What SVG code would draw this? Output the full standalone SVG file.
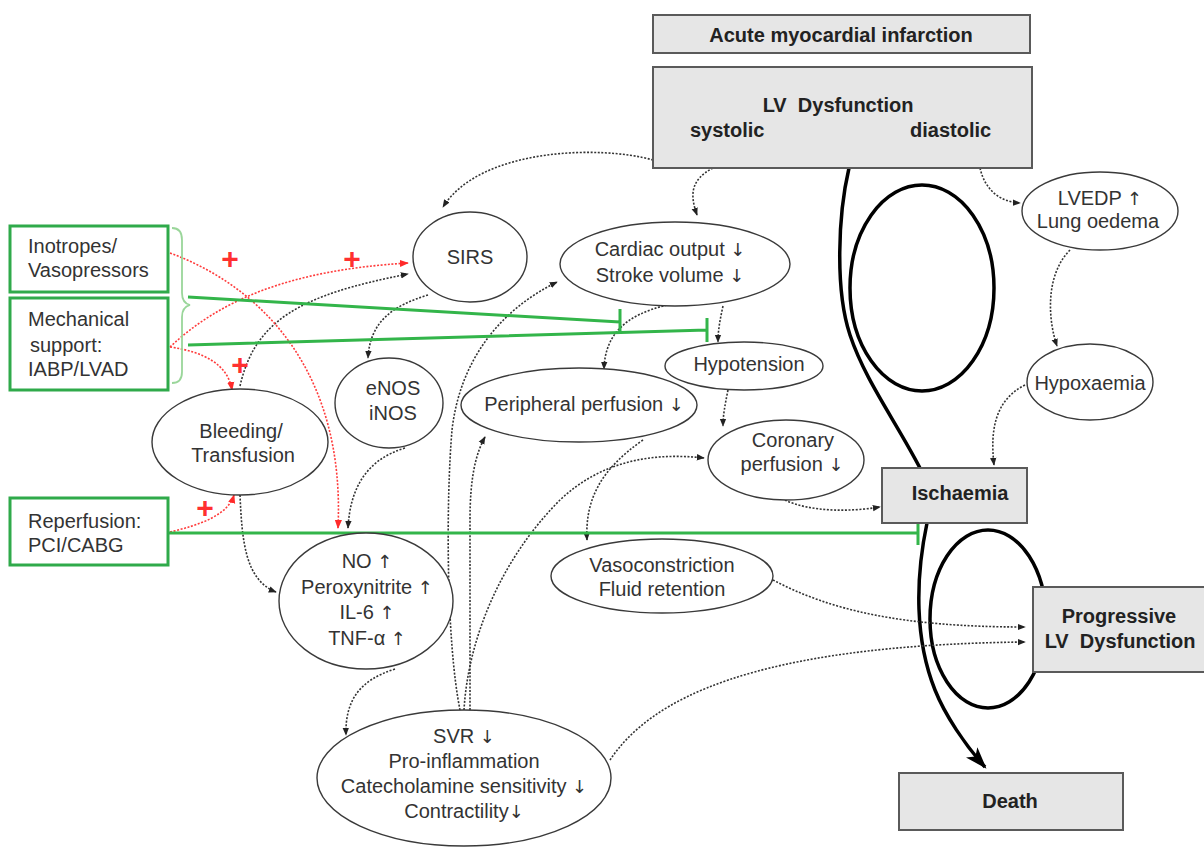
<svg xmlns="http://www.w3.org/2000/svg" width="1204" height="851" viewBox="0 0 1204 851">
<style>
.box{fill:#e6e6e6;stroke:#5a5a5a;stroke-width:2}
.gbox{fill:#fff;stroke:#2faa4a;stroke-width:3}
.ell{fill:#fff;stroke:#3a3a3a;stroke-width:1.4}
.t{font-family:"Liberation Sans",Arial,sans-serif;font-size:20px;fill:#333;text-anchor:middle}
.tl{font-family:"Liberation Sans",Arial,sans-serif;font-size:20px;fill:#333;text-anchor:start}
.b{font-weight:bold;fill:#222}
.a{font-family:"DejaVu Sans",sans-serif;font-size:18px;fill:#333}
.dot{fill:none;stroke:#333;stroke-width:1.6;stroke-dasharray:2 1.6;marker-end:url(#ab)}
.red{fill:none;stroke:#ff3b3b;stroke-width:1.6;stroke-dasharray:2 1.6;marker-end:url(#ar)}
.inh{fill:none;stroke:#33b54a;stroke-width:3}
.thick{fill:none;stroke:#000;stroke-width:3.5}
.plus{font-family:"Liberation Sans",Arial,sans-serif;font-size:30px;font-weight:bold;fill:#ff3030;text-anchor:middle}
</style>
<defs>
<marker id="ab" viewBox="0 0 10 10" refX="9" refY="5" markerWidth="8" markerHeight="8" markerUnits="userSpaceOnUse" orient="auto"><path d="M0,1 L10,5 L0,9 z" fill="#222"/></marker>
<marker id="ar" viewBox="0 0 10 10" refX="9" refY="5" markerWidth="9" markerHeight="9" markerUnits="userSpaceOnUse" orient="auto"><path d="M0,1 L10,5 L0,9 z" fill="#ff2a2a"/></marker>
<marker id="big" viewBox="0 0 20 14" refX="18" refY="7" markerWidth="22" markerHeight="16" markerUnits="userSpaceOnUse" orient="auto"><path d="M0,0 L20,7 L0,14 L5,7 z" fill="#000"/></marker>
</defs>
<rect width="1204" height="851" fill="#fff"/>

<g id="loops">
<ellipse class="thick" cx="922" cy="288" rx="72" ry="103"/>
<ellipse class="thick" cx="988" cy="619" rx="58" ry="89"/>
</g>

<g id="connectors">
<path class="thick" d="M849,168 C838,215 835,290 850,335 C865,380 895,420 920,468 L927,523 C915,580 915,640 935,690 C945,715 965,745 985,767" marker-end="url(#big)"/>

<path class="dot" d="M653,160 C600,145 480,148 443,207"/>
<path class="dot" d="M713,168 C690,180 690,195 697,215"/>
<path class="dot" d="M980,168 C985,190 1000,202 1020,203"/>
<path class="dot" d="M1070,250 C1045,275 1048,320 1057,346"/>
<path class="dot" d="M1025,385 C995,400 990,430 994,465"/>
<path class="dot" d="M723,306 C720,320 718,330 718,342"/>
<path class="dot" d="M667,305 C625,315 605,335 604,369"/>
<path class="dot" d="M728,390 C725,405 723,415 723,426"/>
<path class="dot" d="M785,500 C810,512 850,512 880,507"/>
<path class="dot" d="M643,440 C600,470 585,500 587,540"/>
<path class="dot" d="M464,710 C468,640 500,560 560,500 C600,462 650,452 704,458"/>
<path class="dot" d="M470,710 L470,520 C470,480 475,455 485,437"/>
<path class="dot" d="M460,710 C446,640 446,500 452,430 C460,360 500,310 557,282"/>
<path class="dot" d="M240,386 C255,320 300,295 408,274"/>
<path class="dot" d="M428,295 C395,305 370,320 368,358"/>
<path class="dot" d="M405,448 C365,460 350,490 348,528"/>
<path class="dot" d="M240,495 C242,540 245,580 276,592"/>
<path class="dot" d="M395,669 C360,680 345,700 346,735"/>
<path class="dot" d="M773,580 C830,610 900,627 1025,627"/>
<path class="dot" d="M610,760 C650,700 750,645 1025,642"/>

<path class="red" d="M170,253 C270,290 345,380 338,528"/>
<path class="red" d="M170,347 C220,300 290,270 408,263"/>
<path class="red" d="M170,347 C205,352 228,365 232,390"/>
<path class="red" d="M170,532 C200,525 228,515 234,495"/>

<path class="inh" d="M188,297 L620,322 M620,309 L620,334"/>
<path class="inh" d="M188,345 L707,330 M707,318 L707,342"/>
<path class="inh" d="M168,533 L918,533 M918,521 L918,545"/>
<path d="M172,228 Q182,228 182,240 L182,293 Q182,303 190,305 Q182,307 182,317 L182,372 Q182,383 172,383" fill="none" stroke="#9ad69a" stroke-width="1.8"/>

<text class="plus" x="230" y="269">+</text>
<text class="plus" x="352" y="269">+</text>
<text class="plus" x="240" y="375">+</text>
<text class="plus" x="205" y="518">+</text>
</g>

<g id="ami"><rect class="box" x="653" y="15" width="377" height="38"/><text class="t b" x="841" y="42">Acute myocardial infarction</text></g>
<g id="lvd"><rect class="box" x="653" y="67" width="379" height="101"/><text class="t b" x="838" y="112" xml:space="preserve">LV  Dysfunction</text><text class="tl b" x="690" y="137">systolic</text><text class="tl b" x="910" y="137">diastolic</text></g>
<g id="isch"><rect class="box" x="882" y="468" width="145" height="55"/><text class="t b" x="960" y="500">Ischaemia</text></g>
<g id="prog"><rect class="box" x="1033" y="587" width="180" height="85"/><text class="t b" x="1119" y="623">Progressive</text><text class="t b" x="1120" y="648" xml:space="preserve">LV  Dysfunction</text></g>
<g id="death"><rect class="box" x="899" y="773" width="224" height="57"/><text class="t b" x="1010" y="808">Death</text></g>

<g id="inotropes"><rect class="gbox" x="10" y="226" width="158" height="66"/><text class="tl" x="28" y="253">Inotropes/</text><text class="tl" x="28" y="277">Vasopressors</text></g>
<g id="mech"><rect class="gbox" x="10" y="298" width="158" height="92"/><text class="tl" x="28" y="326">Mechanical</text><text class="tl" x="30" y="352">support:</text><text class="tl" x="28" y="376">IABP/LVAD</text></g>
<g id="reperf"><rect class="gbox" x="10" y="498" width="158" height="67"/><text class="tl" x="28" y="528">Reperfusion:</text><text class="tl" x="28" y="552">PCI/CABG</text></g>

<g id="sirs"><ellipse class="ell" cx="470" cy="257" rx="57" ry="45"/><text class="t" x="470" y="264">SIRS</text></g>
<g id="cardiac"><ellipse class="ell" cx="675" cy="264" rx="115" ry="42"/><text class="t" x="670" y="256">Cardiac output <tspan class="a">↓</tspan></text><text class="t" x="670" y="282">Stroke volume <tspan class="a">↓</tspan></text></g>
<g id="hypotension"><ellipse class="ell" cx="744" cy="366" rx="79" ry="24"/><text class="t" x="749" y="371">Hypotension</text></g>
<g id="enos"><ellipse class="ell" cx="389" cy="403" rx="54" ry="45"/><text class="t" x="393" y="395">eNOS</text><text class="t" x="393" y="420">iNOS</text></g>
<g id="peripheral"><ellipse class="ell" cx="579" cy="405" rx="118" ry="37"/><text class="t" x="584" y="411">Peripheral perfusion <tspan class="a">↓</tspan></text></g>
<g id="coronary"><ellipse class="ell" cx="786" cy="460" rx="78" ry="40"/><text class="t" x="793" y="447">Coronary</text><text class="t" x="792" y="471">perfusion <tspan class="a">↓</tspan></text></g>
<g id="lvedp"><ellipse class="ell" cx="1100" cy="211" rx="78" ry="39"/><text class="t" x="1100" y="205">LVEDP <tspan class="a">↑</tspan></text><text class="t" x="1098" y="228">Lung oedema</text></g>
<g id="hypox"><ellipse class="ell" cx="1090" cy="382" rx="63" ry="38"/><text class="t" x="1090" y="390">Hypoxaemia</text></g>
<g id="bleeding"><ellipse class="ell" cx="240" cy="442" rx="88" ry="53"/><text class="t" x="241" y="438">Bleeding/</text><text class="t" x="243" y="462">Transfusion</text></g>
<g id="no"><ellipse class="ell" cx="366" cy="601" rx="87" ry="68"/><text class="t" x="367" y="568">NO <tspan class="a">↑</tspan></text><text class="t" x="367" y="594">Peroxynitrite <tspan class="a">↑</tspan></text><text class="t" x="367" y="619">IL-6 <tspan class="a">↑</tspan></text><text class="t" x="367" y="645">TNF-α <tspan class="a">↑</tspan></text></g>
<g id="vaso"><ellipse class="ell" cx="662" cy="576" rx="111" ry="37"/><text class="t" x="662" y="572">Vasoconstriction</text><text class="t" x="662" y="596">Fluid retention</text></g>
<g id="svr"><ellipse class="ell" cx="464" cy="778" rx="147" ry="68"/><text class="t" x="464" y="743">SVR <tspan class="a">↓</tspan></text><text class="t" x="464" y="768">Pro-inflammation</text><text class="t" x="464" y="793">Catecholamine sensitivity <tspan class="a">↓</tspan></text><text class="t" x="464" y="818">Contractility<tspan class="a">↓</tspan></text></g>
</svg>
